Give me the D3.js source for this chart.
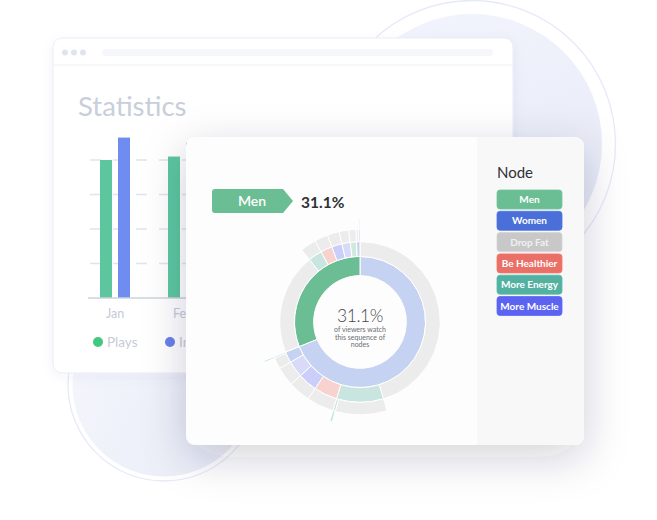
<!DOCTYPE html>
<html>
<head>
<meta charset="utf-8">
<script src="https://cdn.jsdelivr.net/npm/d3@7"></script>
<style>
html,body{margin:0;padding:0;background:#ffffff;}
svg{display:block;font-family:Lato,"Open Sans",sans-serif;}
</style>
</head>
<body>
<svg id="chart" width="657" height="520"></svg>
<script>
// ---------- data ----------
const months = ["Jan", "Feb"];
const seriesNames = ["Plays", "Impressions"];
const playsValues = [80, 82];
const impressionsValues = [93, 90];
const yTickValues = [0, 20, 40, 60, 80];

const nodeNames = ["Men", "Women", "Drop Fat", "Be Healthier", "More Energy", "More Muscle"];
const nodeColors = ["#6bbd93", "#4a6fd8", "#c8c8c8", "#ea6f66", "#52b1a0", "#5b63f0"];
const extraNodeNames = ["Other"];
const extraNodeColors = ["#868cee"];

const sequences = [
  "Women-Drop Fat",
  "Women-More Energy-Drop Fat",
  "Women-More Energy-More Energy-More Energy",
  "Women-Be Healthier-Drop Fat",
  "Women-More Muscle-Drop Fat",
  "Women-Other-Drop Fat",
  "Women-Women-Drop Fat",
  "Women-Women-More Energy-More Energy",
  "Men-Drop Fat",
  "Men-More Energy-Drop Fat",
  "Men-Be Healthier-Drop Fat",
  "Men-More Muscle-Drop Fat",
  "Men-Other-Drop Fat",
  "Men-Men-Drop Fat",
  "Men-Women-Drop Fat",
  "Men-Women-Women-Drop Fat"
];
const sequenceCounts = [1630, 325, 15, 170, 140, 120, 70, 10, 730, 100, 85, 75, 60, 45, 15, 10];
const selectedPath = ["Men"];
const centerCaption = ["of viewers watch", "this sequence of", "nodes"];

// ---------- helpers ----------
const colorOf = d3.scaleOrdinal()
  .domain(nodeNames.concat(extraNodeNames))
  .range(nodeColors.concat(extraNodeColors));

function buildHierarchy(seqs, counts) {
  const root = { name: "root", children: [] };
  seqs.forEach((s, i) => {
    const parts = s.split("-");
    let node = root;
    parts.forEach((p, j) => {
      if (!node.children) node.children = [];
      let child = node.children.find(c => c.name === p);
      if (!child) { child = { name: p }; node.children.push(child); }
      if (j === parts.length - 1) child.value = counts[i];
      node = child;
    });
  });
  return root;
}

const svg = d3.select("#chart");
const defs = svg.append("defs");

// gradients
const g1 = defs.append("linearGradient").attr("id", "circGradA").attr("x1", 0).attr("y1", 0).attr("x2", 0.3).attr("y2", 1);
g1.append("stop").attr("offset", "0%").attr("stop-color", "#f2f4fd");
g1.append("stop").attr("offset", "100%").attr("stop-color", "#e7eaf6");
const g2 = defs.append("linearGradient").attr("id", "circGradB").attr("x1", 0).attr("y1", 0).attr("x2", 1).attr("y2", 0.4);
g2.append("stop").attr("offset", "0%").attr("stop-color", "#f5f6fd");
g2.append("stop").attr("offset", "100%").attr("stop-color", "#eaedf7");

const shadowCard = defs.append("filter").attr("id", "shadowCard")
  .attr("x", "-30%").attr("y", "-30%").attr("width", "160%").attr("height", "170%");
shadowCard.append("feDropShadow").attr("dx", 0).attr("dy", 12).attr("stdDeviation", 22)
  .attr("flood-color", "#1c2440").attr("flood-opacity", 0.2);
const shadowWin = defs.append("filter").attr("id", "shadowWin")
  .attr("x", "-10%").attr("y", "-10%").attr("width", "120%").attr("height", "130%");
shadowWin.append("feDropShadow").attr("dx", 0).attr("dy", 3).attr("stdDeviation", 6)
  .attr("flood-color", "#3a4a80").attr("flood-opacity", 0.05);

// ---------- background circles ----------
svg.append("circle").attr("cx", 472).attr("cy", 144).attr("r", 143.5)
  .attr("fill", "#ffffff").attr("stroke", "#e6eaf8").attr("stroke-width", 1.3);
svg.append("circle").attr("cx", 472).attr("cy", 144).attr("r", 130).attr("fill", "url(#circGradA)");
svg.append("circle").attr("cx", 164).attr("cy", 385).attr("r", 96)
  .attr("fill", "#ffffff").attr("stroke", "#e6eaf8").attr("stroke-width", 1.3);
svg.append("circle").attr("cx", 164).attr("cy", 385).attr("r", 91.5).attr("fill", "url(#circGradB)");

// ---------- back window ----------
const win = svg.append("g");
win.append("rect").attr("x", 53).attr("y", 38).attr("width", 460).attr("height", 335).attr("rx", 9)
  .attr("fill", "#ffffff").attr("stroke", "#e9edf6").attr("stroke-width", 1).attr("filter", "url(#shadowWin)");
[65, 74, 83].forEach(cx => win.append("circle").attr("cx", cx).attr("cy", 52.5).attr("r", 3).attr("fill", "#dfe4ef"));
win.append("rect").attr("x", 102).attr("y", 49).attr("width", 391).attr("height", 7).attr("rx", 3.5).attr("fill", "#f5f7fb");
win.append("line").attr("x1", 53).attr("x2", 513).attr("y1", 65).attr("y2", 65).attr("stroke", "#eef1f7");
win.append("text").attr("x", 78).attr("y", 116).attr("font-size", 27.5).attr("fill", "#c9cedb").text("Statistics");

// bar chart
const y = d3.scaleLinear().domain([0, 80]).range([298, 160]);
const x0 = d3.scaleBand().domain(months).range([81, 81 + 68 * months.length]);
const x1 = d3.scaleBand().domain(seriesNames).range([16, 52]);
const barColors = ["#5cc79f", "#6f8cf1"];
const barVals = [playsValues, impressionsValues];

const grid = win.append("g");
grid.selectAll("line").data(yTickValues.filter(v => v > 0)).join("line")
  .attr("x1", 90).attr("x2", 505).attr("y1", d => y(d)).attr("y2", d => y(d))
  .attr("stroke", "#dfe4ee").attr("stroke-width", 1.5).attr("stroke-dasharray", "11,12");

months.forEach((m, i) => {
  seriesNames.forEach((s, k) => {
    const cx = x0(m) + x1(s) + x1.bandwidth() / 2;
    win.append("rect").attr("x", cx - 6).attr("width", 12)
      .attr("y", y(barVals[k][i])).attr("height", y(0) - y(barVals[k][i]))
      .attr("fill", barColors[k]);
  });
});
win.append("line").attr("x1", 88).attr("x2", 505).attr("y1", y(0)).attr("y2", y(0))
  .attr("stroke", "#cdd2dc").attr("stroke-width", 1.5);
const xAxis = d3.axisBottom(x0).tickSize(0).tickPadding(8);
const xg = win.append("g").attr("transform", `translate(0,${y(0) + 3})`).call(xAxis);
xg.select(".domain").remove();
xg.selectAll("text").attr("font-size", 12.5).attr("fill", "#c5cad6").attr("font-family", "Lato");

// legend of bars
const legendX = [98, 170];
seriesNames.forEach((s, k) => {
  win.append("circle").attr("cx", legendX[k]).attr("cy", 342).attr("r", 5)
    .attr("fill", k === 0 ? "#43c880" : "#6a80ea");
  win.append("text").attr("x", legendX[k] + 9).attr("y", 346.5).attr("font-size", 13.5)
    .attr("fill", "#c6cbd7").text(s);
});

// ---------- front card ----------
const card = svg.append("g");
card.append("rect").attr("x", 186).attr("y", 137).attr("width", 398).attr("height", 308).attr("rx", 9)
  .attr("fill", "#fdfdfd").attr("filter", "url(#shadowCard)");
card.append("path")
  .attr("d", "M477,137 H575 A9,9 0 0 1 584,146 V436 A9,9 0 0 1 575,445 H477 Z")
  .attr("fill", "#f8f8f9");

// breadcrumb
card.append("path")
  .attr("d", "M215,189 H283 L293,201 L283,213 H215 A3,3 0 0 1 212,210 V192 A3,3 0 0 1 215,189 Z")
  .attr("fill", colorOf("Men"));
card.append("text").attr("x", 252).attr("y", 201).attr("dy", "0.35em")
  .attr("text-anchor", "middle").attr("font-size", 14).attr("font-weight", 600)
  .attr("fill", "#ffffff").text(selectedPath[0]);

// sunburst
const hier = d3.hierarchy(buildHierarchy(sequences, sequenceCounts))
  .sum(d => d.value || 0)
  .sort((a, b) => b.value - a.value);
const R = 103.7;
d3.partition().size([2 * Math.PI, R * R])(hier);
const total = hier.value;
const selNode = hier.children.find(c => c.data.name === selectedPath[0]);
const pct = (100 * selNode.value / total).toFixed(1) + "%";

card.append("text").attr("x", 301).attr("y", 207.5).attr("font-size", 15.5).attr("font-weight", 700)
  .attr("fill", "#2f3136").text(pct);

const arc = d3.arc()
  .startAngle(d => d.x0).endAngle(d => d.x1)
  .innerRadius(d => Math.sqrt(d.y0)).outerRadius(d => Math.sqrt(d.y1));
const sun = card.append("g").attr("transform", "translate(360,322)");
const pathSet = new Set(selNode.ancestors());
sun.selectAll("path")
  .data(hier.descendants().filter(d => d.depth > 0 && (d.x1 - d.x0) > 0.005))
  .join("path")
  .attr("d", arc)
  .attr("fill", d => colorOf(d.data.name))
  .attr("fill-opacity", d => pathSet.has(d) ? 1 : 0.3)
  .attr("stroke", "#ffffff").attr("stroke-width", 1);

sun.append("text").attr("y", 0).attr("text-anchor", "middle").attr("font-size", 17.5)
  .attr("letter-spacing", "-0.4").attr("font-weight", 300).attr("fill", "#45474d").text(pct);
centerCaption.forEach((t, i) => {
  sun.append("text").attr("y", 10 + i * 7.5).attr("text-anchor", "middle")
    .attr("font-size", 7).attr("fill", "#6a6c72").text(t);
});

// node legend
card.append("text").attr("x", 497).attr("y", 178).attr("font-size", 15).attr("fill", "#2f3136").text("Node");
const leg = card.append("g").selectAll("g").data(nodeNames).join("g")
  .attr("transform", (d, i) => `translate(497,${190 + i * 21.3})`);
leg.append("rect").attr("width", 65).attr("height", 19).attr("rx", 3)
  .attr("fill", d => colorOf(d))
  .attr("stroke", d => d3.color(colorOf(d)).brighter(0.15)).attr("stroke-width", 0.8);
leg.append("text").attr("x", 32.5).attr("y", 9.5).attr("dy", "0.35em").attr("text-anchor", "middle")
  .attr("font-size", 10).attr("font-weight", 700)
  .attr("fill", d => d === "Drop Fat" ? "#f1f1f1" : "#ffffff").text(d => d);
</script>
</body>
</html>
